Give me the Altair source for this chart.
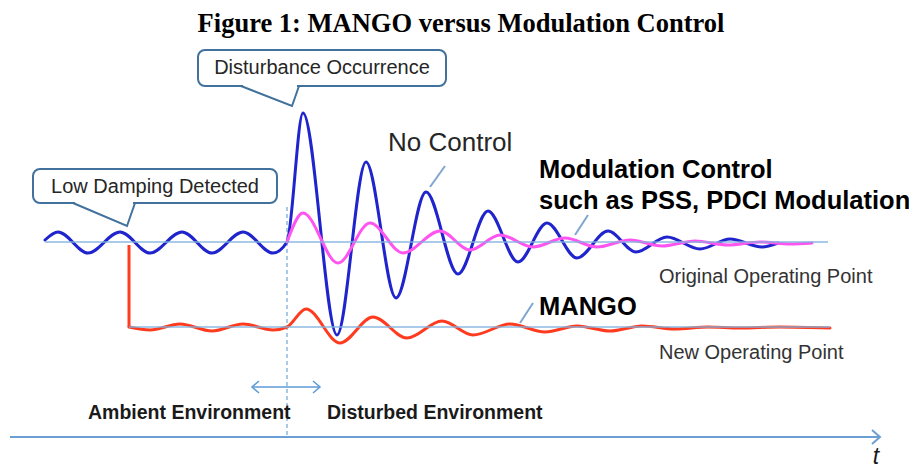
import altair as alt
import pandas as pd

# ---------------- data (picture pixel units) ----------------
# No Control (blue) : t positions and values (peaks / troughs / crossings)
blue_t = [45, 58, 88, 120, 150, 182, 212, 243, 273, 287, 303, 337, 366, 396, 426, 458, 488, 518, 547, 577, 608, 636, 667, 700, 730, 762, 778]
blue_v = [240, 232, 253, 232, 253, 232, 253, 232, 253, 242, 113, 335, 162, 298, 192, 274, 211, 262, 223, 258, 231, 252, 237, 249, 239, 247, 243]

# Modulation control (magenta)
mag_t = [287, 303, 338, 370, 403, 440, 470, 500, 533, 565, 597, 630, 662, 695, 728, 760, 790, 812]
mag_v = [242, 213, 263, 223, 253, 231, 250, 235, 247, 238, 247, 240, 246, 241, 245, 242, 244, 243]

# MANGO (red)
red_drop_t = [129, 129]
red_drop_v = [245, 327]
red_t = [129, 150, 180, 212, 243, 273, 287, 306, 340, 373, 407, 442, 473, 510, 545, 577, 610, 642, 675, 708, 740, 780, 830]
red_v = [327, 330, 324, 331, 324, 330, 327, 309, 343, 317, 338, 321, 335, 324, 332, 326, 331, 326, 329, 327, 328, 327, 328]

# operating-point reference lines
op_names = ["Original", "Original", "New", "New"]
op_t = [45, 828, 129, 830]
op_v = [242, 242, 327, 327]

# time axis and arrows
axis_seg = ["shaft", "shaft", "head", "head", "head"]
axis_t = [10, 880, 872, 880, 872]
axis_v = [437, 437, 430, 437, 444]

darrow_seg = ["shaft", "shaft", "l", "l", "l", "r", "r", "r"]
darrow_t = [252, 320, 259, 252, 259, 313, 320, 313]
darrow_v = [387, 387, 381, 387, 393, 381, 387, 393]

event_t = [287, 287]
event_v = [207, 437]

# callout boxes
box_x1 = [198, 33]
box_x2 = [446, 277]
box_y1 = [50, 169]
box_y2 = [86, 203]
tail_seg = ["d", "d", "d", "l", "l", "l"]
tail_t = [241, 292, 299, 73, 127, 135]
tail_v = [86, 106, 86, 203, 226, 203]
cover_seg = ["d", "d", "l", "l"]
cover_t = [243, 297, 75, 133]
cover_v = [86, 86, 203, 203]

# pointer strokes next to labels
ptr_seg = ["nc", "nc", "mc", "mc", "mg", "mg"]
ptr_t = [445, 430, 588, 575, 533, 520]
ptr_v = [166, 187, 215, 235, 303, 323]

# texts
title_text = ["Figure 1: MANGO versus Modulation Control"]
box_text = ["Disturbance Occurrence", "Low Damping Detected"]
box_text_t = [322, 155]
box_text_v = [68, 187]
plain_text = ["No Control"]
plain_t = [388]
plain_v = [143]
bold_text = ["Modulation Control", "such as PSS, PDCI Modulation", "MANGO"]
bold_t = [539, 539, 539]
bold_v = [170, 201, 307]
op_text = ["Original Operating Point", "New Operating Point"]
op_text_t = [659, 659]
op_text_v = [277, 353]
env_text = ["Ambient Environment", "Disturbed Environment"]
env_t = [88, 327]
env_v = [413, 413]

# ---------------- chart ----------------
XS = alt.Scale(domain=[8, 909], nice=False, zero=False)
YS = alt.Scale(domain=[469, 8], nice=False, zero=False)


def xy():
    return dict(x=alt.X("x:Q", scale=XS, axis=None), y=alt.Y("y:Q", scale=YS, axis=None))


def df(t, v, seg=None):
    d = pd.DataFrame({"x": t, "y": v, "i": list(range(len(t)))})
    d["seg"] = seg if seg is not None else ["a"] * len(t)
    return d


def path(t, v, seg=None, **mk):
    return alt.Chart(df(t, v, seg)).mark_line(**mk).encode(
        **xy(), detail="seg:N", order=alt.Order("i:Q")
    )


def curve(t, v, color):
    return alt.Chart(df(t, v)).mark_line(
        interpolate="monotone", color=color, strokeWidth=3, strokeCap="round"
    ).encode(**xy())


def texts(labels, t, v, baseline="middle", **mk):
    d = pd.DataFrame({"x": t, "y": v, "label": labels})
    return alt.Chart(d).mark_text(baseline=baseline, **mk).encode(**xy(), text="label:N")


LIGHT = "#7fb0dd"
BOXC = "#41719c"

op_lines = path(op_t, op_v, op_names, color=LIGHT, strokeWidth=1.5, opacity=0.9)
axis_line = path(axis_t, axis_v, axis_seg, color="#6a9fd4", strokeWidth=2)
darrow = path(darrow_t, darrow_v, darrow_seg, color="#5b9bd5", strokeWidth=1.5)
event = path(event_t, event_v, color="#8fb6df", strokeWidth=1.5, strokeDash=[4, 3])

red_drop = path(red_drop_t, red_drop_v, color="#ff3b1f", strokeWidth=3)
red = curve(red_t, red_v, "#ff3b1f")
blue = curve(blue_t, blue_v, "#1f24cc")
mag = curve(mag_t, mag_v, "#ff55f0")

boxes = alt.Chart(pd.DataFrame({"x": box_x1, "x2": box_x2, "y": box_y1, "y2": box_y2})).mark_rect(
    fill="white", stroke=BOXC, strokeWidth=2, cornerRadius=7
).encode(**xy(), x2="x2:Q", y2="y2:Q")
cover = path(cover_t, cover_v, cover_seg, color="white", strokeWidth=4)
tails = path(tail_t, tail_v, tail_seg, color=BOXC, strokeWidth=2)
pointers = path(ptr_t, ptr_v, ptr_seg, color="#7ea6cf", strokeWidth=2)

FS = "Liberation Sans, Arial, sans-serif"
title = texts(title_text, [461], [32], baseline="alphabetic", align="center",
              font="Liberation Serif, Times New Roman, serif",
              fontWeight="bold", fontSize=26.5, color="black")
box_lbl = texts(box_text, box_text_t, box_text_v, align="center", font=FS, fontSize=20, color="#262626")
plain_lbl = texts(plain_text, plain_t, plain_v, align="left", font=FS, fontSize=26, color="#262626")
bold_lbl = texts(bold_text, bold_t, bold_v, align="left", font=FS, fontWeight="bold", fontSize=25.5, color="black")
op_lbl = texts(op_text, op_text_t, op_text_v, align="left", font=FS, fontSize=20, color="#333333")
env_lbl = texts(env_text, env_t, env_v, align="left", font=FS,
                fontWeight="bold", fontSize=19.5, color="#1a1a1a")
t_lbl = texts(["t"], [876], [457], align="center", font=FS, fontStyle="italic", fontSize=23, color="#1a1a1a")

chart = alt.layer(
    axis_line, event, darrow,
    red_drop, red, blue, mag, op_lines,
    pointers, boxes, cover, tails,
    title, box_lbl, plain_lbl, bold_lbl, op_lbl, env_lbl, t_lbl,
).properties(
    width=901, height=461, padding=0, autosize=alt.AutoSizeParams(type="none"), background="white"
).configure_view(stroke=None)

chart.save("out.html", embed_options={"renderer": "svg", "actions": False})
